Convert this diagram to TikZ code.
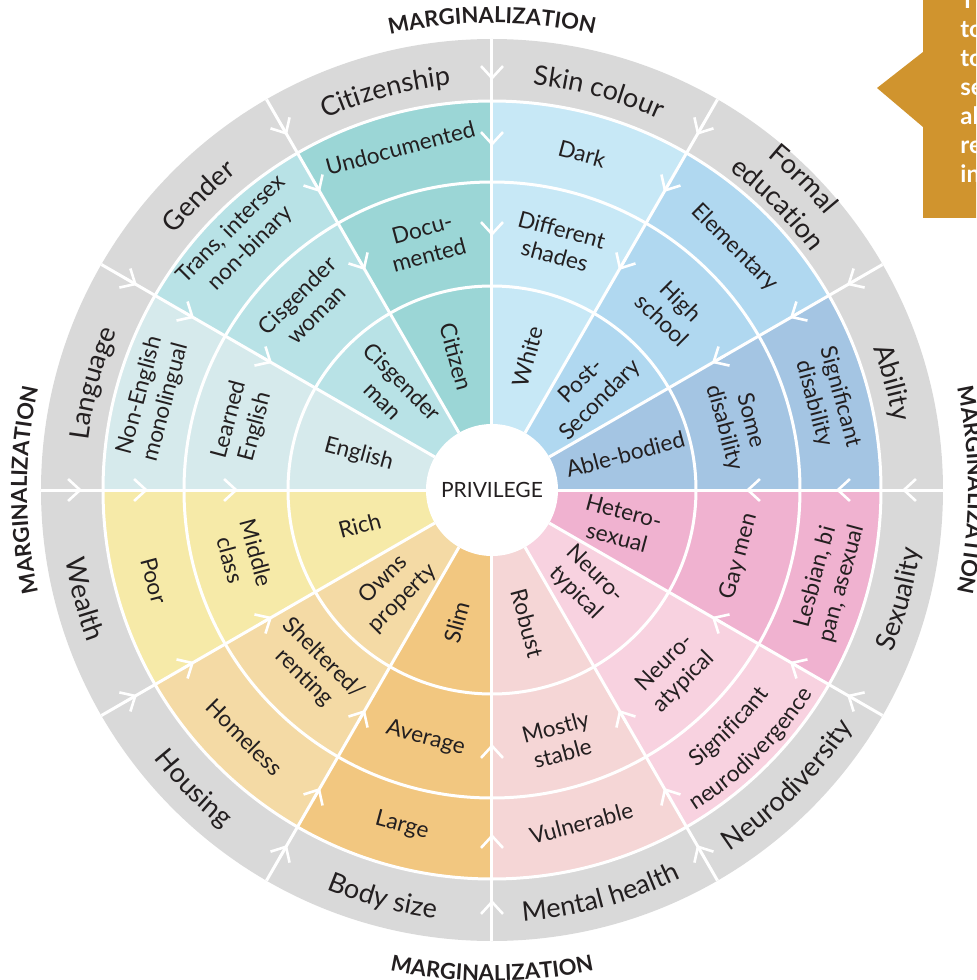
\documentclass[tikz,border=0pt]{standalone}
\usepackage{fontspec}
\setmainfont{Lato}
\usetikzlibrary{arrows.meta,decorations.text}
\definecolor{pw_ring}{RGB}{217,217,217}
\definecolor{pw_ink}{RGB}{35,31,32}
\definecolor{pw_gold}{RGB}{208,148,46}
\definecolor{pw_citizen}{RGB}{155,214,214}
\definecolor{pw_gender}{RGB}{184,226,230}
\definecolor{pw_language}{RGB}{214,234,236}
\definecolor{pw_wealth}{RGB}{246,234,168}
\definecolor{pw_housing}{RGB}{244,218,165}
\definecolor{pw_body}{RGB}{242,199,128}
\definecolor{pw_mental}{RGB}{245,214,214}
\definecolor{pw_neuro}{RGB}{248,210,224}
\definecolor{pw_sexuality}{RGB}{240,178,208}
\definecolor{pw_ability}{RGB}{164,197,227}
\definecolor{pw_education}{RGB}{176,216,240}
\definecolor{pw_skin}{RGB}{199,232,246}
\newcommand{\lblfont}{\fontsize{11.3}{13.5}\selectfont}
\newcommand{\catfont}{\fontsize{13.5}{16}\selectfont}
\newcommand{\margfont}{\fontsize{11}{13}\selectfont\bfseries}
\tikzstyle{lbl}=[align=center,inner sep=0pt,text=pw_ink,font=\lblfont]
\tikzstyle{gap}=[white,line width=1.5pt]
\tikzstyle{flow}=[white,line width=1.3pt,-{Straight Barb[length=6pt,width=11pt]}]
\tikzstyle{curved}=[decorate,decoration={text along path,text align=center,text color=pw_ink}]
\tikzstyle{note}=[anchor=base west,inner sep=0pt,text=white,font=\fontsize{12}{14}\selectfont\bfseries]

\begin{document}
\begin{tikzpicture}[x=0.5pt,y=0.5pt]
    \useasboundingbox (-492,-490) rectangle (484,490);
    \clip (-492,-490) rectangle (484,490);

    % grey band round the wheel
    \fill[pw_ring] (0,0) circle[radius=451];

    % one wedge per dimension
    \fill[pw_ability] (0,0) -- (0:389) arc[start angle=0,end angle=30,radius=389] -- cycle;
    \fill[pw_education] (0,0) -- (30:389) arc[start angle=30,end angle=60,radius=389] -- cycle;
    \fill[pw_skin] (0,0) -- (60:389) arc[start angle=60,end angle=90,radius=389] -- cycle;
    \fill[pw_citizen] (0,0) -- (90:389) arc[start angle=90,end angle=120,radius=389] -- cycle;
    \fill[pw_gender] (0,0) -- (120:389) arc[start angle=120,end angle=150,radius=389] -- cycle;
    \fill[pw_language] (0,0) -- (150:389) arc[start angle=150,end angle=180,radius=389] -- cycle;
    \fill[pw_wealth] (0,0) -- (180:389) arc[start angle=180,end angle=210,radius=389] -- cycle;
    \fill[pw_housing] (0,0) -- (210:389) arc[start angle=210,end angle=240,radius=389] -- cycle;
    \fill[pw_body] (0,0) -- (240:389) arc[start angle=240,end angle=270,radius=389] -- cycle;
    \fill[pw_mental] (0,0) -- (270:389) arc[start angle=270,end angle=300,radius=389] -- cycle;
    \fill[pw_neuro] (0,0) -- (300:389) arc[start angle=300,end angle=330,radius=389] -- cycle;
    \fill[pw_sexuality] (0,0) -- (330:389) arc[start angle=330,end angle=360,radius=389] -- cycle;

    % white rings and spokes
    \draw[gap] (0,0) circle[radius=204];
    \draw[gap] (0,0) circle[radius=308];
    \draw[gap] (0,0) circle[radius=389];
    \foreach \a in {0,30,...,330}
        \draw[gap] (\a:66) -- (\a:451);

    % arrows pointing in, on every spoke
    \foreach \a in {0,30,...,330} {
        \draw[flow] (\a:424) -- (\a:410);
        \draw[flow] (\a:358) -- (\a:344);
        \draw[flow] (\a:268) -- (\a:254);
    }

    \fill[white] (0,0) circle[radius=66];
    \node[text=pw_ink,font=\fontsize{10.5}{12}\selectfont] (centre) at (0,0) {PRIVILEGE};

    % skin colour
    \node[lbl,rotate=-15] (dark) at (75:348) {Dark};
    \node[lbl,rotate=-15] (shades) at (75:256) {Different\\shades};
    \node[lbl,rotate=75] (whiteskin) at (75:138) {White};
    % formal education
    \node[lbl,rotate=-45] (elementary) at (45:343) {Elementary};
    \node[lbl,rotate=-45] (highschool) at (45:254) {High\\school};
    \node[lbl,rotate=45] (postsec) at (45:140) {Post-\\Secondary};
    % ability
    \node[lbl,rotate=-75] (sigdis) at (15:347) {Significant\\disability};
    \node[lbl,rotate=-75] (somedis) at (15:254) {Some\\disability};
    \node[lbl,rotate=15] (able) at (15:138) {Able-bodied};
    % sexuality
    \node[lbl,rotate=75] (lesbian) at (-15:349) {Lesbian, bi\\pan, asexual};
    \node[lbl,rotate=75] (gay) at (-15:256) {Gay men};
    \node[lbl,rotate=-15] (hetero) at (-15:133) {Hetero-\\sexual};
    % neurodiversity
    \node[lbl,rotate=45] (atypical) at (-45:258) {Neuro-\\atypical};
    \node[lbl,rotate=-45] (typical) at (-45:132) {Neuro-\\typical};
    \path[curved,decoration={text={|\lblfont|Significant}}]
        (-70:344) arc[start angle=-70,end angle=-20,radius=344];
    \path[curved,decoration={text={|\lblfont|neurodivergence}}]
        (-70:380) arc[start angle=-70,end angle=-20,radius=380];
    % mental health
    \node[lbl,rotate=15] (vulnerable) at (-75:345) {Vulnerable};
    \node[lbl,rotate=15] (stable) at (-75:259) {Mostly\\stable};
    \node[lbl,rotate=-75] (robust) at (-75:138) {Robust};
    % body size
    \node[lbl,rotate=-15] (large) at (-105:348) {Large};
    \node[lbl,rotate=-15] (average) at (-105:257) {Average};
    \node[lbl,rotate=75] (slim) at (-105:137) {Slim};
    % housing
    \node[lbl,rotate=-45] (homeless) at (-135:350) {Homeless};
    \node[lbl,rotate=-45] (renting) at (-135:252) {Sheltered/\\renting};
    \node[lbl,rotate=45] (owns) at (-135:140) {Owns\\property};
    % wealth
    \node[lbl,rotate=-75] (poor) at (-165:350) {Poor};
    \node[lbl,rotate=-75] (middle) at (-165:257) {Middle\\class};
    \node[lbl,rotate=15] (rich) at (-165:137) {Rich};
    % language
    \node[lbl,rotate=75] (nonenglish) at (165:351) {Non-English\\monolingual};
    \node[lbl,rotate=75] (learned) at (165:258) {Learned\\English};
    \node[lbl,rotate=-15] (english) at (165:138) {English};
    % gender
    \node[lbl,rotate=45] (trans) at (135:355) {Trans, intersex\\non-binary};
    \node[lbl,rotate=45] (ciswoman) at (135:262) {Cisgender\\woman};
    \node[lbl,rotate=-45] (cisman) at (135:140) {Cisgender\\man};
    % citizenship
    \node[lbl,rotate=15] (undoc) at (105:354) {Undocumented};
    \node[lbl,rotate=15] (doc) at (105:257) {Docu-\\mented};
    \node[lbl,rotate=-75] (citizen) at (105:138) {Citizen};

    % names in the grey band
    \path[curved,decoration={text={|\catfont|Citizenship}}]
        (130:407) arc[start angle=130,end angle=80,radius=407];
    \path[curved,decoration={text={|\catfont|Skin colour}}]
        (100:407) arc[start angle=100,end angle=50,radius=407];
    \path[curved,decoration={text={|\catfont|Formal}}]
        (70:432) arc[start angle=70,end angle=20,radius=432];
    \path[curved,decoration={text={|\catfont|education}}]
        (70:398) arc[start angle=70,end angle=20,radius=398];
    \path[curved,decoration={text={|\catfont|Ability}}]
        (40:407) arc[start angle=40,end angle=-10,radius=407];
    \path[curved,decoration={text={|\catfont|Gender}}]
        (160:407) arc[start angle=160,end angle=110,radius=407];
    \path[curved,decoration={text={|\catfont|Language}}]
        (190:407) arc[start angle=190,end angle=140,radius=407];
    \path[curved,decoration={text={|\catfont|Sexuality}}]
        (-40:432) arc[start angle=-40,end angle=10,radius=432];
    \path[curved,decoration={text={|\catfont|Neurodiversity}}]
        (-70:432) arc[start angle=-70,end angle=-20,radius=432];
    \path[curved,decoration={text={|\catfont|Mental health}}]
        (-100:432) arc[start angle=-100,end angle=-50,radius=432];
    \path[curved,decoration={text={|\catfont|Body size}}]
        (-130:432) arc[start angle=-130,end angle=-80,radius=432];
    \path[curved,decoration={text={|\catfont|Housing}}]
        (-160:432) arc[start angle=-160,end angle=-110,radius=432];
    \path[curved,decoration={text={|\catfont|Wealth}}]
        (-190:432) arc[start angle=-190,end angle=-140,radius=432];

    % MARGINALIZATION on four sides
    \path[curved,decoration={text={|\margfont|MARGINALIZATION}}]
        (120:467) arc[start angle=120,end angle=60,radius=467];
    \path[curved,decoration={text={|\margfont|MARGINALIZATION}}]
        (210:465) arc[start angle=210,end angle=150,radius=465];
    \path[curved,decoration={text={|\margfont|MARGINALIZATION}}]
        (30:476) arc[start angle=30,end angle=-30,radius=476];
    \path[curved,decoration={text={|\margfont|MARGINALIZATION}}]
        (-120:491) arc[start angle=-120,end angle=-60,radius=491];

    % gold call-out at the top right
    \fill[pw_gold] (431,500) -- (431,438) -- (385,402) -- (431,363)
        -- (431,272) -- (500,272) -- (500,500) -- cycle;
    \node[note] (c1) at (468,481) {T};
    \node[note] (c2) at (468,452) {to};
    \node[note] (c3) at (468,423) {to};
    \node[note] (c4) at (468,394) {se};
    \node[note] (c5) at (468,365) {al};
    \node[note] (c6) at (468,336) {re};
    \node[note] (c7) at (468,307) {in};
\end{tikzpicture}
\end{document}
